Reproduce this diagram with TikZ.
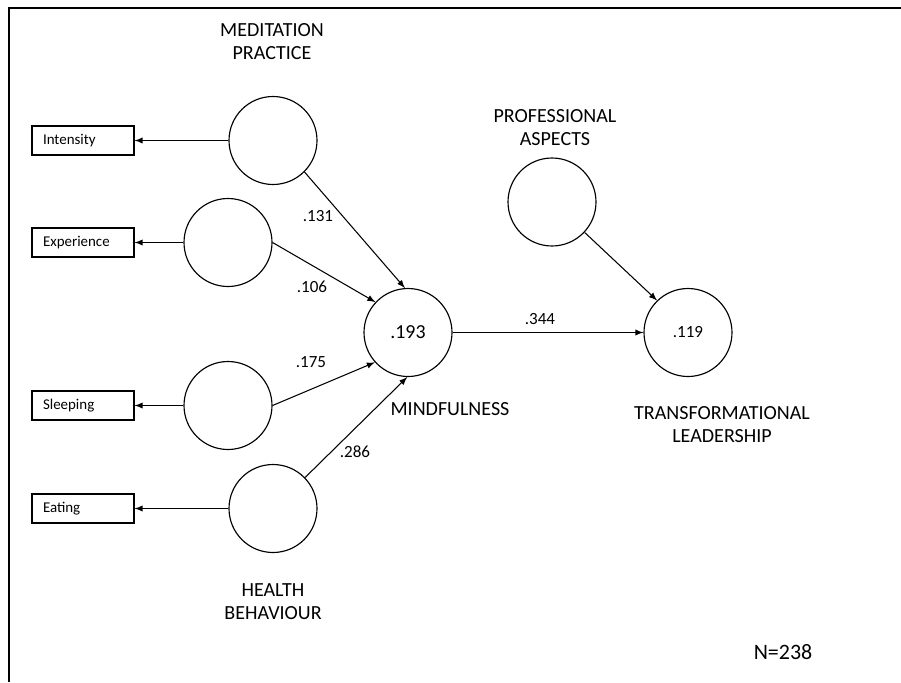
\documentclass[tikz,border=0pt]{standalone}
\usepackage{fontspec}
\setmainfont{Carlito}
\usepackage{tikz}
\usetikzlibrary{arrows}

\begin{document}
\begin{tikzpicture}[
        latent/.style={draw, circle, line width=0.65pt, minimum size=1.76cm, inner sep=0pt},
        indicator/.style={draw, rectangle, line width=0.65pt, minimum width=2.04cm, minimum height=0.58cm,
                inner xsep=0.22cm, inner ysep=0pt, text width=1.6cm, align=left, font=\fontsize{8.5}{10}\selectfont},
        construct/.style={align=center, font=\fontsize{11.4}{13.1}\selectfont},
        coef/.style={font=\fontsize{9.7}{11}\selectfont},
        link/.style={-latex, line width=0.6pt}]
        \useasboundingbox (0, 0) rectangle (18.02, 13.64);
        \draw[line width=1.1pt] (0.18, 0) -- (0.18, 13.48) -- (18.02, 13.48);

        \node[indicator] (Int) at (1.66, 10.83) {Intensity};
        \node[indicator] (Exp) at (1.66, 8.79) {Experience};
        \node[indicator] (Sle) at (1.66, 5.53) {Sleeping};
        \node[indicator] (Eat) at (1.66, 3.47) {Eating};

        \node[latent] (MP) at (5.46, 10.83) {};
        \node[latent] (EX) at (4.56, 8.79) {};
        \node[latent] (SL) at (4.56, 5.53) {};
        \node[latent] (EA) at (5.46, 3.47) {};
        \node[latent, font=\fontsize{11.3}{13}\selectfont] (MF) at (8.16, 6.99) {.193};
        \node[latent] (PA) at (11.04, 9.6) {};
        \node[latent, coef] (TL) at (13.76, 6.99) {.119};

        \node[construct] (mpl) at (5.44, 12.8) {MEDITATION\\PRACTICE};
        \node[construct] (hbl) at (5.46, 1.6) {HEALTH\\BEHAVIOUR};
        \node[construct] (mfl) at (9.0, 5.46) {MINDFULNESS};
        \node[construct] (pal) at (11.1, 11.08) {PROFESSIONAL\\ASPECTS};
        \node[construct] (tll) at (14.44, 5.14) {TRANSFORMATIONAL\\LEADERSHIP};
        \node[font=\fontsize{12.5}{14}\selectfont] (N) at (15.66, 0.6) {N=238};

        \node[coef] (c1) at (6.36, 9.32) {.131};
        \node[coef] (c2) at (6.24, 7.9) {.106};
        \node[coef] (c3) at (6.22, 6.4) {.175};
        \node[coef] (c4) at (7.1, 4.6) {.286};
        \node[coef] (c5) at (10.8, 7.26) {.344};

        \draw[link] (MP.west) to (Int.east);
        \draw[link] (EX.west) to (Exp.east);
        \draw[link] (SL.west) to (Sle.east);
        \draw[link] (EA.west) to (Eat.east);

        \draw[link] (MP.-45) to (MF.94);
        \draw[link] (EX.east) to (MF.137);
        \draw[link] (SL.east) to (MF.222);
        \draw[link] (EA.44) to (MF.269);
        \draw[link] (MF.east) to (TL.west);
        \draw[link] (PA.-43) to (TL.134);

      \end{tikzpicture}
\end{document}
